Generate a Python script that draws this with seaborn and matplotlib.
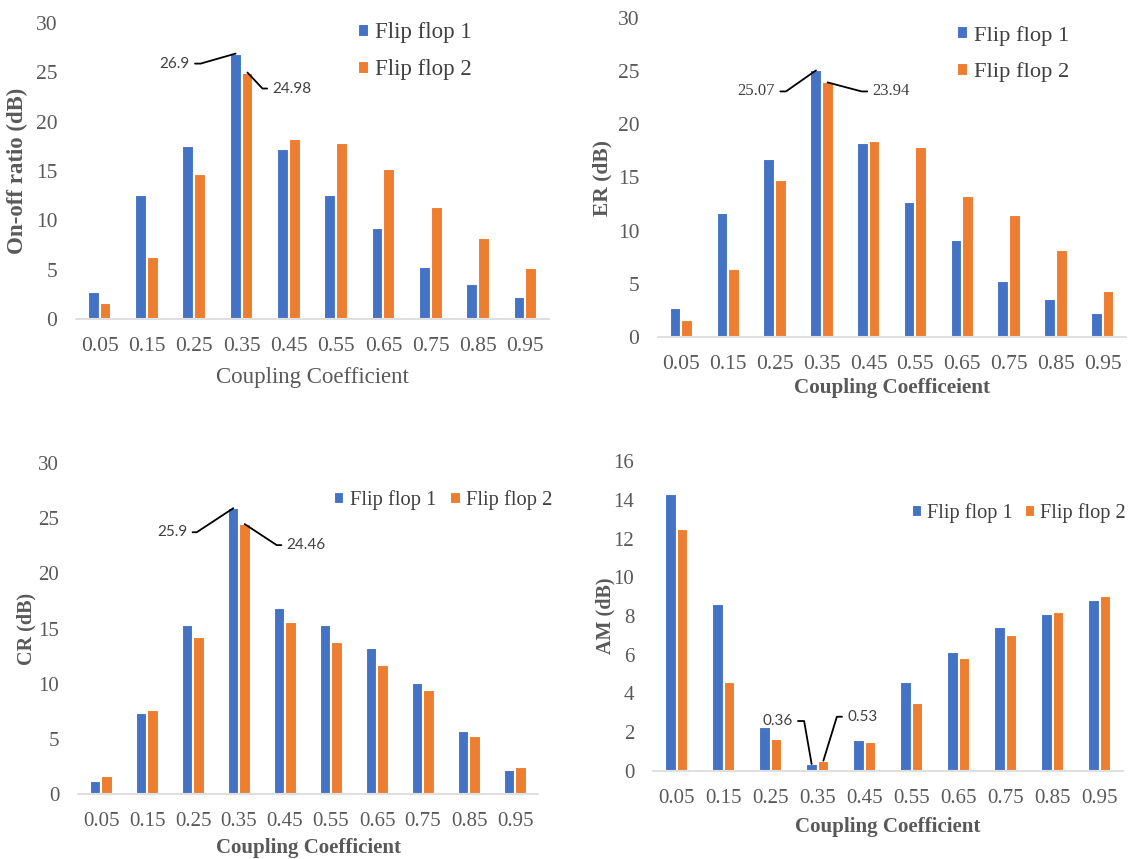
import matplotlib
matplotlib.use("Agg")
import matplotlib.pyplot as plt
import pandas as pd
import seaborn as sns

# Coupling coefficient categories and the two flip-flop series
coupling = ["0.05", "0.15", "0.25", "0.35", "0.45", "0.55", "0.65", "0.75", "0.85", "0.95"]
series_names = ["Flip flop 1", "Flip flop 2"]

onoff_ff1 = [2.7, 12.6, 17.5, 26.9, 17.2, 12.6, 9.2, 5.3, 3.5, 2.2]
onoff_ff2 = [1.6, 6.3, 14.7, 24.98, 18.2, 17.8, 15.2, 11.4, 8.2, 5.2]

er_ff1 = [2.7, 11.7, 16.7, 25.07, 18.2, 12.7, 9.15, 5.3, 3.6, 2.3]
er_ff2 = [1.6, 6.35, 14.8, 23.94, 18.4, 17.9, 13.3, 11.5, 8.2, 4.3]

cr_ff1 = [1.2, 7.3, 15.3, 25.9, 16.9, 15.3, 13.2, 10.1, 5.7, 2.2]
cr_ff2 = [1.6, 7.6, 14.2, 24.46, 15.6, 13.8, 11.7, 9.4, 5.3, 2.45]

am_ff1 = [14.3, 8.6, 2.27, 0.36, 1.58, 4.6, 6.14, 7.42, 8.12, 8.85]
am_ff2 = [12.5, 4.6, 1.67, 0.53, 1.48, 3.51, 5.83, 7.02, 8.23, 9.05]

PALETTE = ["#4472C4", "#ED7D31"]
GRAY = "#595959"
SERIF = "Liberation Serif"
SANS = "Lato"

sns.set_style("white")
plt.rcParams["font.family"] = [SERIF, "DejaVu Serif"]

W, H = 1136, 859
fig = plt.figure(figsize=(W / 100, H / 100), dpi=100)


def frame(left, top, right, bottom):
    """Axes rectangle given in pixel edges (origin at top-left)."""
    return fig.add_axes([left / W, (H - bottom) / H, (right - left) / W, (bottom - top) / H])


def long_table(ff1, ff2):
    return pd.DataFrame({
        "coupling": coupling * 2,
        "value": list(ff1) + list(ff2),
        "series": [series_names[0]] * len(coupling) + [series_names[1]] * len(coupling),
    })


def draw_panel(ax, ff1, ff2, ymax, ystep, ylabel, ylab_size, ylab_x,
               xlabel, xlab_bold, xlab_size, xlab_y, tick_size,
               leg_xy, leg_ncol, leg_size, leg_spacing, col_spacing=0.75):
    sns.barplot(data=long_table(ff1, ff2), x="coupling", y="value", hue="series",
                order=coupling, hue_order=series_names, palette=PALETTE,
                width=0.5, edgecolor="white", linewidth=1.5, saturation=1,
                errorbar=None, ax=ax)
    ax.set_xlim(-0.5, len(coupling) - 0.5)
    ax.set_ylim(0, ymax)
    ax.set_yticks(range(0, ymax + 1, ystep))
    ax.tick_params(axis="both", length=0, labelsize=tick_size, labelcolor=GRAY)
    ax.tick_params(axis="x", pad=13)
    ax.tick_params(axis="y", pad=13.5)
    for side in ("top", "right", "left"):
        ax.spines[side].set_visible(False)
    ax.spines["bottom"].set_color("#d9d9d9")
    ax.spines["bottom"].set_linewidth(1.2)
    ax.grid(False)

    ax.set_ylabel(ylabel, fontsize=ylab_size, fontweight="bold", color=GRAY)
    ax.set_xlabel(xlabel, fontsize=xlab_size,
                  fontweight="bold" if xlab_bold else "normal", color=GRAY)
    ax.yaxis.label.set_va("center")
    ax.xaxis.label.set_va("center")
    ax.yaxis.set_label_coords(ylab_x, 0.5)
    ax.xaxis.set_label_coords(0.5, xlab_y)

    sns.move_legend(ax, "center left", bbox_to_anchor=leg_xy, ncol=leg_ncol,
                    title=None, frameon=False, fontsize=leg_size,
                    handlelength=0.5, handleheight=0.5, handletextpad=0.25,
                    labelspacing=leg_spacing, columnspacing=col_spacing, borderpad=0,
                    borderaxespad=0, labelcolor="#404040")


def leader(ax, series_idx, cat_idx, text, dx, dy, arm, family, size):
    """Value label joined to the top of a bar by an elbowed leader line."""
    bar = ax.containers[series_idx][cat_idx]
    x = bar.get_x() + bar.get_width() / 2
    y = bar.get_height()
    left_side = dx < 0
    ax.annotate(
        text, xy=(x, y), xytext=(dx, dy), textcoords="offset pixels",
        ha="right" if left_side else "left", va="center",
        fontsize=size, color="#404040", family=family,
        arrowprops=dict(
            arrowstyle="-", color="black", lw=1.3, shrinkA=1.5, shrinkB=0,
            relpos=(1, 0.5) if left_side else (0, 0.5),
            connectionstyle=f"arc,angleA={0 if left_side else 180},angleB=0,"
                            f"armA={arm},armB=0,rad=0",
        ),
    )


# Top-left: on-off ratio
ax1 = frame(76, 23, 549, 319)
draw_panel(ax1, onoff_ff1, onoff_ff2, 30, 5,
           "On-off ratio (dB)", 16.5, -0.123,
           "Coupling Coefficient", False, 16.5, -0.197, 15.5,
           (0.596, 0.904), 1, 16.5, 0.7)
leader(ax1, 0, 3, "26.9", -46, -10, 11, SANS, 11)
leader(ax1, 1, 3, "24.98", 25, -16, 10, SANS, 11)

# Top-right: extinction ratio
ax2 = frame(658, 18, 1126, 337)
draw_panel(ax2, er_ff1, er_ff2, 30, 5,
           "ER (dB)", 15.5, -0.118,
           "Coupling Coefficeient", True, 15.2, -0.16, 15.5,
           (0.639, 0.887), 1, 16.2, 0.75)
leader(ax2, 0, 3, "25.07", -41, -21, 11, SERIF, 12)
leader(ax2, 1, 3, "23.94", 45, -9, 11, SERIF, 12)

# Bottom-left: contrast ratio
ax3 = frame(78, 463, 538, 794)
draw_panel(ax3, cr_ff1, cr_ff2, 30, 5,
           "CR (dB)", 14.5, -0.111,
           "Coupling Coefficient", True, 15, -0.163, 15,
           (0.557, 0.888), 2, 14.8, 0.5, 0.7)
leader(ax3, 0, 3, "25.9", -46, -24, 9.5, SANS, 11)
leader(ax3, 1, 3, "24.46", 42, -21, 10, SANS, 11)

# Bottom-right: amplitude modulation
ax4 = frame(653, 461, 1123, 771)
draw_panel(ax4, am_ff1, am_ff2, 16, 2,
           "AM (dB)", 14.5, -0.102,
           "Coupling Coefficient", True, 15.1, -0.18, 15,
           (0.551, 0.832), 2, 14.6, 0.5, 0.6)
leader(ax4, 0, 3, "0.36", -19, 43, 11.5, SANS, 11)
leader(ax4, 1, 3, "0.53", 24, 44, 10.5, SANS, 11)

fig.savefig("out.png", dpi=100)
